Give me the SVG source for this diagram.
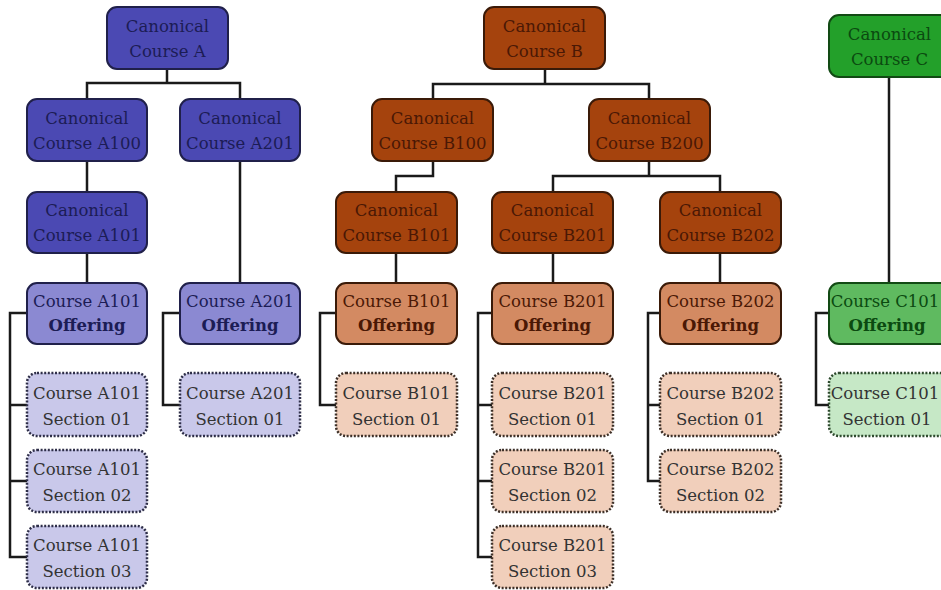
<svg xmlns="http://www.w3.org/2000/svg" width="941" height="590" viewBox="0 0 941 590">
<style>
  text { font-family: "DejaVu Serif", "Liberation Serif", serif; font-size: 16.5px; text-anchor: middle; }
  .b { font-weight: bold; }
  .box { stroke-width: 2; }
  .sec { stroke-width: 2.5; stroke-dasharray: 2 1.6; }
  .aD { fill: #4b49b3; stroke: #20204a; }
  .aO { fill: #8b89d2; stroke: #20204a; }
  .aS { fill: #c9c8ea; stroke: #2e2e48; }
  .bD { fill: #a5430d; stroke: #3a1a08; }
  .bO { fill: #d38a62; stroke: #3a1a08; }
  .bS { fill: #f1cfbb; stroke: #3e3028; }
  .cD { fill: #23a02a; stroke: #124a14; }
  .cO { fill: #5fba60; stroke: #124a14; }
  .cS { fill: #c6e8c6; stroke: #2e4a2e; }
  .ta { fill: #1c1c55; }
  .tb { fill: #4a1805; }
  .tc { fill: #0b4a10; }
  .ts { fill: #333333; }
  .ct { fill: none; stroke: #1a1a1a; stroke-width: 2.5; }
</style>
<rect width="941" height="590" fill="#ffffff"/>
<g id="connectors" class="ct">
  <path d="M167,69 V83 M87,99 V83 H240 V99"/>
  <path d="M87,161 V192 M87,253 V283 M240,161 V283"/>
  <path d="M27,313 H10 V557 H27 M10,405 H27 M10,481 H27"/>
  <path d="M180,313 H163 V405 H180"/>
  <path d="M545,69 V84 M433,99 V84 H649 V99"/>
  <path d="M433,161 V176 H396 V192"/>
  <path d="M649,161 V176 M553,192 V176 H720 V192"/>
  <path d="M396,253 V283 M553,253 V283 M720,253 V283"/>
  <path d="M336,313 H320 V405 H336"/>
  <path d="M492,313 H478 V557 H492 M478,405 H492 M478,481 H492"/>
  <path d="M660,313 H648 V481 H660 M648,405 H660"/>
  <path d="M889,77 V283"/>
  <path d="M829,313 H816 V405 H829"/>
</g>
<g id="A"><rect class="box aD" x="107" y="7" width="121" height="62" rx="10"/><text class="ta" x="167.5" y="32">Canonical</text><text class="ta" x="167.5" y="57">Course A</text></g>
<g id="A100"><rect class="box aD" x="27" y="99" width="120" height="62" rx="10"/><text class="ta" x="87" y="124">Canonical</text><text class="ta" x="87" y="149">Course A100</text></g>
<g id="A201"><rect class="box aD" x="180" y="99" width="120" height="62" rx="10"/><text class="ta" x="240" y="124">Canonical</text><text class="ta" x="240" y="149">Course A201</text></g>
<g id="A101"><rect class="box aD" x="27" y="192" width="120" height="61" rx="10"/><text class="ta" x="87" y="216">Canonical</text><text class="ta" x="87" y="241">Course A101</text></g>
<g id="A101-offering"><rect class="box aO" x="27" y="283" width="120" height="61" rx="10"/><text class="ta" x="87" y="307">Course A101</text><text class="ta b" x="87" y="331">Offering</text></g>
<g id="A101-s01"><rect class="sec aS" x="27" y="373" width="120" height="63" rx="10"/><text class="ts" x="87" y="399">Course A101</text><text class="ts" x="87" y="425">Section 01</text></g>
<g id="A101-s02"><rect class="sec aS" x="27" y="450" width="120" height="62" rx="10"/><text class="ts" x="87" y="475">Course A101</text><text class="ts" x="87" y="501">Section 02</text></g>
<g id="A101-s03"><rect class="sec aS" x="27" y="526" width="120" height="62" rx="10"/><text class="ts" x="87" y="551">Course A101</text><text class="ts" x="87" y="577">Section 03</text></g>
<g id="A201-offering"><rect class="box aO" x="180" y="283" width="120" height="61" rx="10"/><text class="ta" x="240" y="307">Course A201</text><text class="ta b" x="240" y="331">Offering</text></g>
<g id="A201-s01"><rect class="sec aS" x="180" y="373" width="120" height="63" rx="10"/><text class="ts" x="240" y="399">Course A201</text><text class="ts" x="240" y="425">Section 01</text></g>

<g id="B"><rect class="box bD" x="484" y="7" width="121" height="62" rx="10"/><text class="tb" x="544.5" y="32">Canonical</text><text class="tb" x="544.5" y="57">Course B</text></g>
<g id="B100"><rect class="box bD" x="372" y="99" width="121" height="62" rx="10"/><text class="tb" x="432.5" y="124">Canonical</text><text class="tb" x="432.5" y="149">Course B100</text></g>
<g id="B200"><rect class="box bD" x="589" y="99" width="121" height="62" rx="10"/><text class="tb" x="649.5" y="124">Canonical</text><text class="tb" x="649.5" y="149">Course B200</text></g>
<g id="B101"><rect class="box bD" x="336" y="192" width="121" height="61" rx="10"/><text class="tb" x="396.5" y="216">Canonical</text><text class="tb" x="396.5" y="241">Course B101</text></g>
<g id="B201"><rect class="box bD" x="492" y="192" width="121" height="61" rx="10"/><text class="tb" x="552.5" y="216">Canonical</text><text class="tb" x="552.5" y="241">Course B201</text></g>
<g id="B202"><rect class="box bD" x="660" y="192" width="121" height="61" rx="10"/><text class="tb" x="720.5" y="216">Canonical</text><text class="tb" x="720.5" y="241">Course B202</text></g>
<g id="B101-offering"><rect class="box bO" x="336" y="283" width="121" height="61" rx="10"/><text class="tb" x="396.5" y="307">Course B101</text><text class="tb b" x="396.5" y="331">Offering</text></g>
<g id="B101-s01"><rect class="sec bS" x="336" y="373" width="121" height="63" rx="10"/><text class="ts" x="396.5" y="399">Course B101</text><text class="ts" x="396.5" y="425">Section 01</text></g>
<g id="B201-offering"><rect class="box bO" x="492" y="283" width="121" height="61" rx="10"/><text class="tb" x="552.5" y="307">Course B201</text><text class="tb b" x="552.5" y="331">Offering</text></g>
<g id="B201-s01"><rect class="sec bS" x="492" y="373" width="121" height="63" rx="10"/><text class="ts" x="552.5" y="399">Course B201</text><text class="ts" x="552.5" y="425">Section 01</text></g>
<g id="B201-s02"><rect class="sec bS" x="492" y="450" width="121" height="62" rx="10"/><text class="ts" x="552.5" y="475">Course B201</text><text class="ts" x="552.5" y="501">Section 02</text></g>
<g id="B201-s03"><rect class="sec bS" x="492" y="526" width="121" height="62" rx="10"/><text class="ts" x="552.5" y="551">Course B201</text><text class="ts" x="552.5" y="577">Section 03</text></g>
<g id="B202-offering"><rect class="box bO" x="660" y="283" width="121" height="61" rx="10"/><text class="tb" x="720.5" y="307">Course B202</text><text class="tb b" x="720.5" y="331">Offering</text></g>
<g id="B202-s01"><rect class="sec bS" x="660" y="373" width="121" height="63" rx="10"/><text class="ts" x="720.5" y="399">Course B202</text><text class="ts" x="720.5" y="425">Section 01</text></g>
<g id="B202-s02"><rect class="sec bS" x="660" y="450" width="121" height="62" rx="10"/><text class="ts" x="720.5" y="475">Course B202</text><text class="ts" x="720.5" y="501">Section 02</text></g>

<g id="C"><rect class="box cD" x="829" y="15" width="121" height="62" rx="10"/><text class="tc" x="889.5" y="40">Canonical</text><text class="tc" x="889.5" y="65">Course C</text></g>
<g id="C101-offering"><rect class="box cO" x="829" y="283" width="121" height="61" rx="10"/><text class="tc" x="885" y="307">Course C101</text><text class="tc b" x="887" y="331">Offering</text></g>
<g id="C101-s01"><rect class="sec cS" x="829" y="373" width="121" height="63" rx="10"/><text class="ts" x="885" y="399">Course C101</text><text class="ts" x="887" y="425">Section 01</text></g>
</svg>
